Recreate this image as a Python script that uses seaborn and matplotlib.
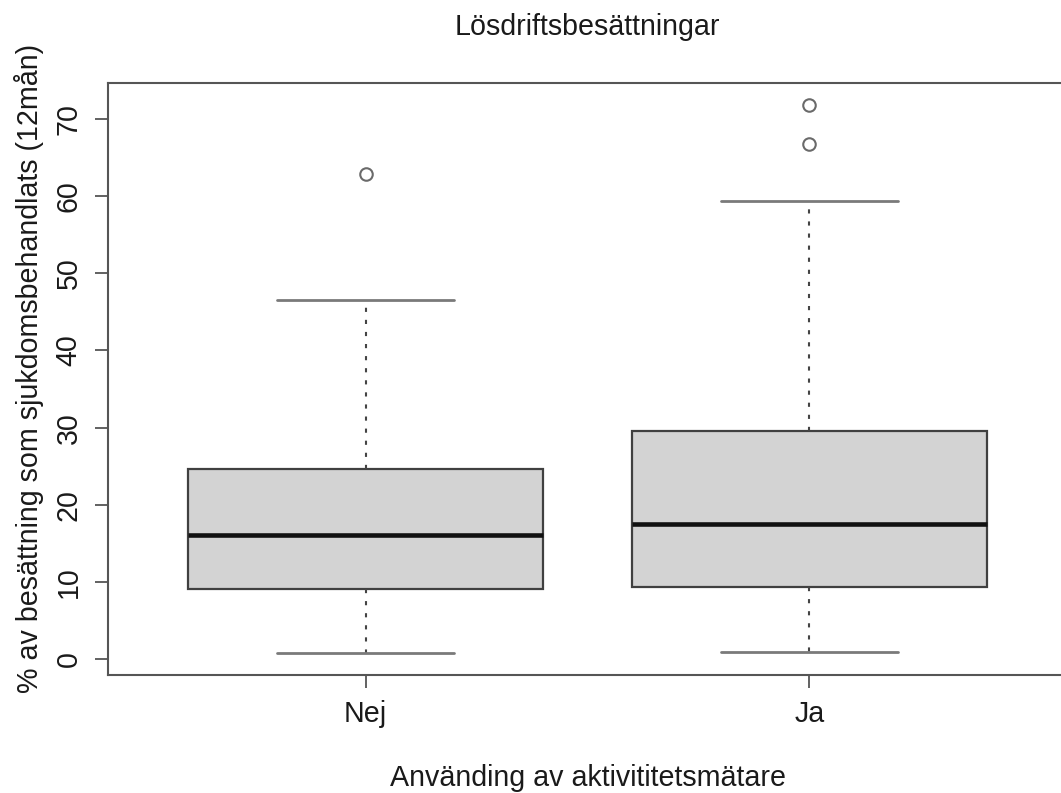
import matplotlib
matplotlib.use("Agg")
import matplotlib.pyplot as plt
import seaborn as sns

# ---- data ----
groups = ["Nej", "Ja"]
q1 = [9.1, 9.3]
median = [16.1, 17.5]
q3 = [24.7, 29.5]
whisker_low = [0.8, 0.9]
whisker_high = [46.5, 59.3]
outliers = [[62.8], [66.7, 71.8]]
y_ticks = [0, 10, 20, 30, 40, 50, 60, 70]

title = "Lösdriftsbesättningar"
xlabel = "Använding av aktivititetsmätare"
ylabel = "% av besättning som sjukdomsbehandlats (12mån)"

sns.set_style("white")
plt.rcParams["font.family"] = ["Liberation Sans", "DejaVu Sans"]
FS = 20.6
TXT = "#1a1a1a"

W, H = 1061, 793
fig = plt.figure(figsize=(W / 100, H / 100), dpi=100)
ax = fig.add_axes([108 / W, 1 - 675 / H, (1067 - 108) / W, (675 - 83) / H])

stats = []
for i, g in enumerate(groups):
    stats.append(dict(label=g, med=median[i], q1=q1[i], q3=q3[i],
                      whislo=whisker_low[i], whishi=whisker_high[i],
                      fliers=outliers[i]))

ax.bxp(stats, positions=[1, 2], widths=0.8, patch_artist=True, showfliers=True,
       boxprops=dict(facecolor="#d3d3d3", edgecolor="#404040", linewidth=1.6),
       medianprops=dict(color="#111111", linewidth=3.3, solid_capstyle="butt"),
       whiskerprops=dict(color="#444444", linewidth=1.5, linestyle=(0, (2.0, 3.8))),
       capprops=dict(color="#7a7a7a", linewidth=2.0),
       flierprops=dict(marker="o", markerfacecolor="none", markeredgecolor="#6a6a6a",
                       markersize=9, markeredgewidth=1.5))

ax.set_xlim(0.42, 2.58)
ax.set_ylim(-2.05, 74.65)
ax.set_xticks([1, 2])
ax.set_xticklabels(groups)
ax.set_yticks(y_ticks)
ax.set_yticklabels([str(v) for v in y_ticks], rotation=90, va="center")

for s in ax.spines.values():
    s.set_visible(True)
    s.set_color("#555555")
    s.set_linewidth(1.5)
ax.tick_params(axis="both", which="major", direction="out", length=9.5, width=1.3,
               color="#555555", labelsize=FS, labelcolor=TXT, pad=8.6,
               left=True, bottom=True)
ax.grid(False)

ax.set_title(title, fontsize=FS, color=TXT, pad=34.6, loc="center")
ax.set_xlabel(xlabel, fontsize=FS, color=TXT)
ax.xaxis.set_label_coords(0.5, (675 - 764) / (675 - 83))
ax.set_ylabel(ylabel, fontsize=FS, color=TXT)
ax.yaxis.set_label_coords((44 - 108) / (1067 - 108), (675 - 368) / (675 - 83))

fig.savefig("out.png", dpi=100, facecolor="white")
